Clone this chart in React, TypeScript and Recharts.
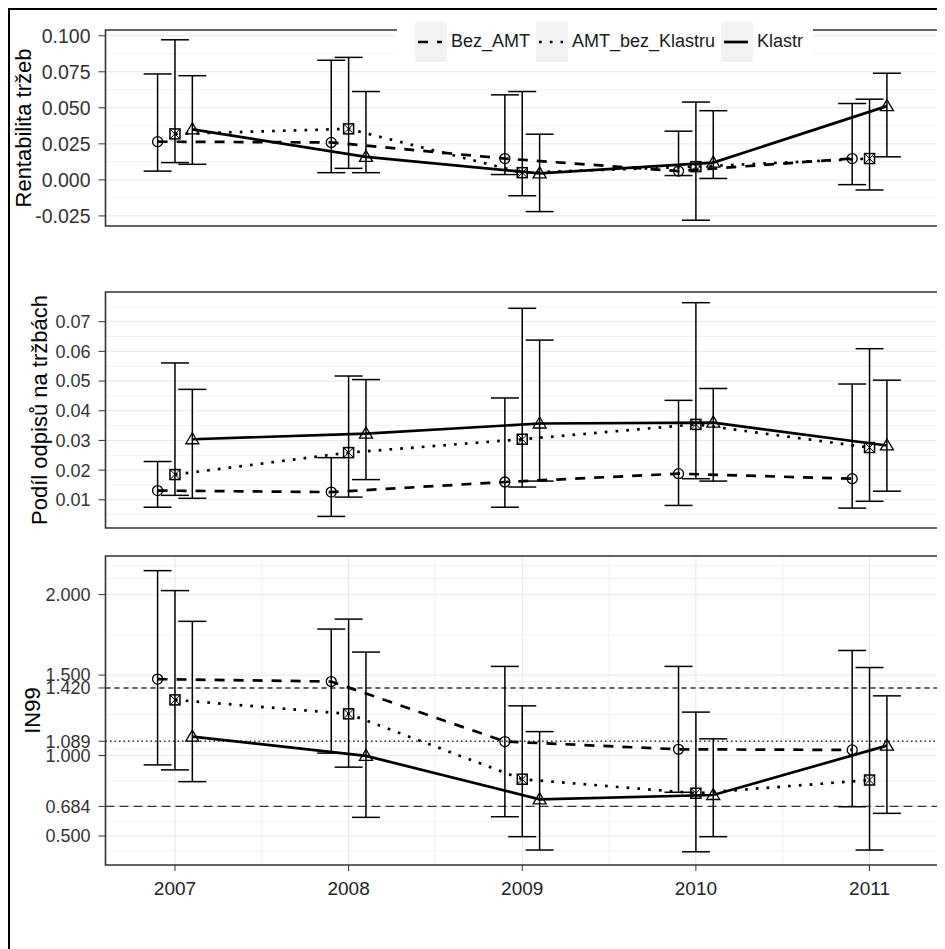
import React from "react";
import { CartesianGrid, ComposedChart, ErrorBar, ReferenceArea, ReferenceLine, Scatter, XAxis, YAxis } from "recharts";

// categories
const years = [2007, 2008, 2009, 2010, 2011];
const xMinor = [2007.5, 2008.5, 2009.5, 2010.5];
const groups = ["Bez_AMT", "AMT_bez_Klastru", "Klastr"];
const dodge = [-0.1, 0, 0.1];

// [mean, lower, upper] per year — Rentabilita tržeb
const rentBez = [[0.0265, 0.0061, 0.0735], [0.026, 0.005, 0.083], [0.0148, 0.0037, 0.059], [0.0061, 0.003, 0.0338], [0.0148, -0.0033, 0.053]];
const rentAmt = [[0.0319, 0.012, 0.0972], [0.0354, 0.008, 0.085], [0.005, -0.011, 0.0613], [0.0092, -0.028, 0.054], [0.0148, -0.007, 0.056]];
const rentKla = [[0.035, 0.0108, 0.0723], [0.016, 0.005, 0.0613], [0.0045, -0.022, 0.0317], [0.012, 0.001, 0.048], [0.0512, 0.016, 0.074]];
const rentTicks = [-0.025, 0, 0.025, 0.05, 0.075, 0.1];
const rentMinor = [-0.0125, 0.0125, 0.0375, 0.0625, 0.0875];

// Podíl odpisů na tržbách
const odpBez = [[0.0131, 0.0075, 0.0229], [0.0126, 0.0044, 0.0242], [0.016, 0.0075, 0.0443], [0.0188, 0.0081, 0.0435], [0.0171, 0.0072, 0.049]];
const odpAmt = [[0.0185, 0.0115, 0.0561], [0.0259, 0.0109, 0.0517], [0.0304, 0.0143, 0.0745], [0.0354, 0.0171, 0.0764], [0.0276, 0.0095, 0.0609]];
const odpKla = [[0.0304, 0.0105, 0.0472], [0.0323, 0.0168, 0.0505], [0.0357, 0.0163, 0.0638], [0.036, 0.0163, 0.0475], [0.0283, 0.0129, 0.0503]];
const odpTicks = [0.01, 0.02, 0.03, 0.04, 0.05, 0.06, 0.07];
const odpMinor = [0.005, 0.015, 0.025, 0.035, 0.045, 0.055, 0.065, 0.075];

// IN99
const inBez = [[1.475, 0.942, 2.149], [1.46, 1.015, 1.786], [1.087, 0.62, 1.554], [1.039, 0.772, 1.554], [1.035, 0.682, 1.653]];
const inAmt = [[1.346, 0.911, 2.025], [1.259, 0.928, 1.848], [0.853, 0.496, 1.309], [0.766, 0.402, 1.27], [0.848, 0.413, 1.547]];
const inKla = [[1.118, 0.838, 1.834], [0.998, 0.616, 1.643], [0.728, 0.413, 1.149], [0.755, 0.496, 1.104], [1.062, 0.641, 1.371]];
const inTicks = [0.5, 0.684, 1.0, 1.089, 1.42, 1.5, 2.0];
const inMinor = [0.408, 0.592, 0.842, 1.0445, 1.2545, 1.46, 1.75, 2.1, 2.18];
const inRefs = [1.42, 1.089, 0.684];

const X_DOMAIN = [2006.6, 2011.4];
const LW = 2.7;
const dashes = ["10 9", `${LW} ${LW * 3}`, undefined];
const refDashes = ["5 4", "1.5 3", "9 5"];

const rows = (vals: number[][], shift: number) =>
  vals.map(([m, lo, hi], i) => ({ x: years[i] + shift, y: m, err: [m - lo, hi - m] }));

function Marker({ cx, cy, kind }: { cx?: number; cy?: number; kind: number }) {
  if (cx == null || cy == null) return null;
  if (kind === 0) return <circle cx={cx} cy={cy} r={5} fill="none" stroke="#000" strokeWidth={1.3} />;
  if (kind === 1)
    return (
      <g>
        <rect x={cx - 5} y={cy - 5} width={10} height={10} fill="none" stroke="#000" strokeWidth={1.5} />
        <path d={`M${cx - 5},${cy - 5}L${cx + 5},${cy + 5}M${cx + 5},${cy - 5}L${cx - 5},${cy + 5}`} stroke="#000" strokeWidth={1} />
      </g>
    );
  return <path d={`M${cx},${cy - 6.5}L${cx + 6.5},${cy + 4.5}L${cx - 6.5},${cy + 4.5}Z`} fill="none" stroke="#000" strokeWidth={1.3} />;
}

interface PanelProps {
  top: number;
  height: number;
  mTop: number;
  mBottom: number;
  series: number[][][];
  domain: number[];
  ticks: number[];
  minor: number[];
  title: string;
  titleOffset: number;
  tickFont: number;
  xLabels?: boolean;
  refs?: number[];
}

function Panel({ top, height, mTop, mBottom, series, domain, ticks, minor, title, titleOffset, tickFont, xLabels, refs }: PanelProps) {
  return (
    <div style={{ position: "absolute", left: 0, top }}>
      <ComposedChart width={937} height={height} margin={{ top: mTop, right: 6, bottom: mBottom, left: 10 }}>
        <CartesianGrid stroke="#f2f2f2" horizontalValues={minor} verticalValues={xMinor} />
        <CartesianGrid stroke="#e8e8e8" horizontalValues={ticks} verticalValues={years} />
        <XAxis
          type="number"
          dataKey="x"
          domain={X_DOMAIN}
          ticks={years}
          interval={0}
          allowDataOverflow
          axisLine={false}
          tickLine={{ stroke: "#333" }}
          tickSize={6}
          tickMargin={11}
          height={xLabels ? 40 : 14}
          tick={xLabels ? { fill: "#222", fontSize: 19 } : false}
        />
        <YAxis
          type="number"
          dataKey="y"
          domain={domain}
          ticks={ticks}
          interval={0}
          allowDataOverflow
          width={87.5}
          axisLine={false}
          tickLine={{ stroke: "#333" }}
          tickSize={7}
          tickMargin={8}
          tick={{ fill: "#333", fontSize: tickFont }}
          tickFormatter={(v: number) => (ticks === odpTicks ? v.toFixed(2) : v.toFixed(3))}
          label={{ value: title, angle: -90, position: "insideLeft", offset: titleOffset, fontSize: 22, fill: "#000", style: { textAnchor: "middle" } }}
        />
        {(refs ?? []).map((r, i) => (
          <ReferenceLine key={r} y={r} stroke="#333" strokeWidth={1.4} strokeDasharray={refDashes[i]} />
        ))}
        {series.map((vals, s) => (
          <Scatter
            key={groups[s]}
            name={groups[s]}
            data={rows(vals, dodge[s])}
            isAnimationActive={false}
            line={{ stroke: "#000", strokeWidth: LW, strokeDasharray: dashes[s] }}
            shape={(p: any) => <Marker cx={p.cx} cy={p.cy} kind={s} />}
          >
            <ErrorBar dataKey="err" direction="y" width={14} stroke="#000" strokeWidth={1.5} isAnimationActive={false} />
          </Scatter>
        ))}
        <ReferenceArea x1={X_DOMAIN[0]} x2={X_DOMAIN[1]} y1={domain[0]} y2={domain[1]} fill="none" stroke="#333" strokeWidth={1.6} />
      </ComposedChart>
    </div>
  );
}

function LegendKey({ s }: { s: number }) {
  return (
    <svg width={32} height={40} style={{ background: "#f2f2f2", display: "block" }}>
      <line x1={3} y1={20} x2={27} y2={20} stroke="#000" strokeWidth={LW} strokeDasharray={dashes[s]} />
    </svg>
  );
}

export default function App() {
  return (
    <div style={{ position: "relative", width: 937, height: 941, fontFamily: "'Liberation Sans', Arial, sans-serif", background: "#fff" }}>
      <div style={{ position: "absolute", inset: 0, borderTop: "2px solid #000", borderLeft: "2px solid #000", boxSizing: "border-box" }} />
      <Panel top={0} height={240} mTop={22} mBottom={8} series={[rentBez, rentAmt, rentKla]} domain={[-0.032, 0.104]} ticks={rentTicks} minor={rentMinor} title="Rentabilita tržeb" titleOffset={5} tickFont={19.5} />
      <Panel top={242} height={300} mTop={42} mBottom={8} series={[odpBez, odpAmt, odpKla]} domain={[0.0005, 0.08]} ticks={odpTicks} minor={odpMinor} title="Podíl odpisů na tržbách" titleOffset={21} tickFont={18} />
      <Panel top={542} height={370} mTop={6} mBottom={15} series={[inBez, inAmt, inKla]} domain={[0.32, 2.24]} ticks={inTicks} minor={inMinor} title="IN99" titleOffset={14} tickFont={18} xLabels refs={inRefs} />
      <div style={{ position: "absolute", left: 389, top: 12, width: 416, height: 43, background: "#fff", display: "flex", alignItems: "center", paddingLeft: 18, boxSizing: "border-box", fontSize: 18, color: "#1a1a1a" }}>
        {groups.map((g, s) => (
          <div key={g} style={{ display: "flex", alignItems: "center", marginRight: 6 }}>
            <LegendKey s={s} />
            <span style={{ marginLeft: 4 }}>{g}</span>
          </div>
        ))}
      </div>
    </div>
  );
}
